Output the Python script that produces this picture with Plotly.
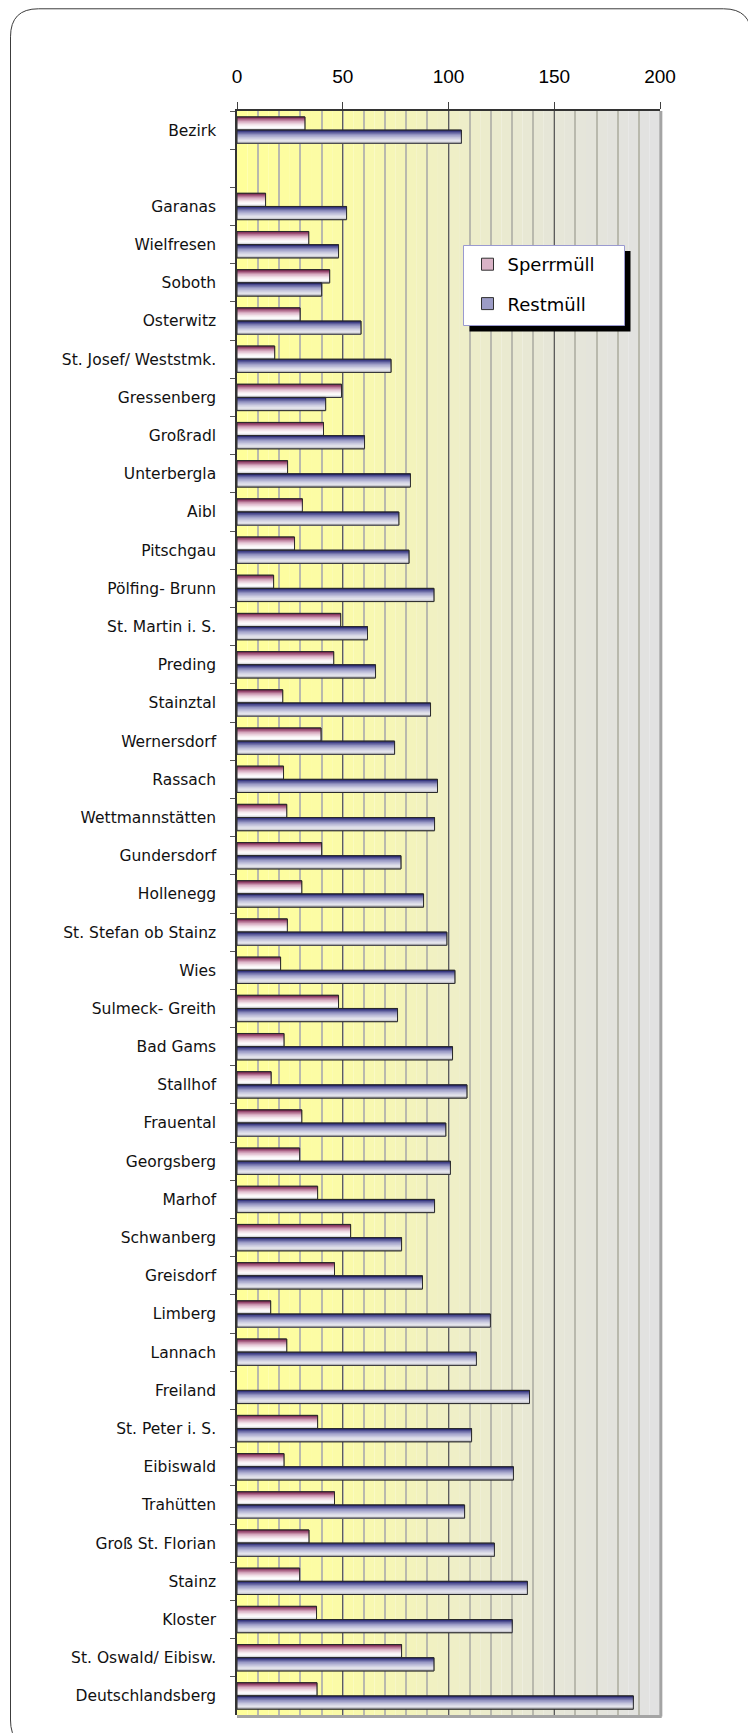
import plotly.graph_objects as go

# ---------------- data ----------------
categories = [
    "Bezirk", " ", "Garanas", "Wielfresen", "Soboth", "Osterwitz",
    "St. Josef/ Weststmk.", "Gressenberg", "Großradl", "Unterbergla", "Aibl",
    "Pitschgau", "Pölfing- Brunn", "St. Martin i. S.", "Preding", "Stainztal",
    "Wernersdorf", "Rassach", "Wettmannstätten", "Gundersdorf", "Hollenegg",
    "St. Stefan ob Stainz", "Wies", "Sulmeck- Greith", "Bad Gams", "Stallhof",
    "Frauental", "Georgsberg", "Marhof", "Schwanberg", "Greisdorf", "Limberg",
    "Lannach", "Freiland", "St. Peter i. S.", "Eibiswald", "Trahütten",
    "Groß St. Florian", "Stainz", "Kloster", "St. Oswald/ Eibisw.",
    "Deutschlandsberg",
]
sperrmuell = [
    32.1, None, 13.5, 33.9, 43.8, 29.8, 17.8, 49.4, 40.9, 23.9, 30.9,
    27.2, 17.3, 49.0, 45.7, 21.6, 39.7, 22.0, 23.5, 40.0, 30.6,
    23.8, 20.6, 48.0, 22.2, 16.1, 30.6, 29.6, 38.1, 53.7, 46.1, 15.9,
    23.5, None, 38.1, 22.2, 46.1, 34.0, 29.6, 37.6, 77.8, 37.8,
]
restmuell = [
    106.1, None, 51.8, 48.0, 40.0, 58.6, 72.8, 41.9, 60.3, 82.0, 76.5,
    81.3, 93.1, 61.7, 65.5, 91.5, 74.5, 94.8, 93.4, 77.5, 88.2,
    99.2, 103.0, 75.9, 101.9, 108.7, 98.7, 100.9, 93.4, 77.8, 87.7, 119.8,
    113.2, 138.3, 110.9, 130.7, 107.6, 121.7, 137.3, 130.1, 93.1, 187.4,
]
series_names = ["Sperrmüll", "Restmüll"]
x_ticks = [0, 50, 100, 150, 200]

# ---------------- geometry helpers ----------------
OFF = 8                      # browser body margin
W, H = 748, 1725
ML, MR, MT, MB = 229, 96, 103, 18
PW, PH = W - ML - MR, H - MT - MB


def px(xp):
    """page pixel x -> paper fraction"""
    return (xp - OFF - ML) / PW


def py(yp):
    """page pixel y -> paper fraction"""
    return (H - MB - (yp - OFF)) / PH


def lerp_stops(stops, t):
    for i in range(len(stops) - 1):
        t0, c0 = stops[i]
        t1, c1 = stops[i + 1]
        if t <= t1:
            f = 0 if t1 == t0 else (t - t0) / (t1 - t0)
            c = [round(a + (b - a) * f) for a, b in zip(c0, c1)]
            return "rgb(%d,%d,%d)" % tuple(c)
    return "rgb(%d,%d,%d)" % tuple(stops[-1][1])


sperr_stops = [(0.0, (105, 25, 65)), (0.12, (150, 70, 110)), (0.35, (215, 170, 192)),
               (0.6, (245, 232, 238)), (0.78, (255, 255, 255)), (1.0, (205, 205, 210))]
rest_stops = [(0.0, (20, 20, 95)), (0.12, (70, 70, 140)), (0.35, (150, 150, 195)),
              (0.65, (210, 210, 228)), (0.82, (232, 232, 238)), (1.0, (190, 190, 198))]

BW = 0.345   # bar thickness in category units
NB = 12      # gradient bands

fig = go.Figure()

series = [
    (series_names[0], sperrmuell, sperr_stops, -BW, "#d9b3c6"),
    (series_names[1], restmuell, rest_stops, 0.0, "#9c9cc6"),
]

for name, vals, stops, off0, legcol in series:
    fig.add_trace(go.Bar(
        name=name, y=categories, x=vals, orientation="h",
        offset=off0, width=BW, legendgroup=name, showlegend=True,
        marker=dict(color=legcol, line=dict(color="#303030", width=1)),
    ))
    for k in range(NB):
        fig.add_trace(go.Bar(
            y=categories, x=vals, orientation="h",
            offset=off0 + k * BW / NB, width=BW * (NB - k) / NB,
            legendgroup=name, showlegend=False, hoverinfo="skip",
            marker=dict(color=lerp_stops(stops, (k + 0.5) / NB), line=dict(width=0)),
        ))
    fig.add_trace(go.Bar(
        y=categories, x=vals, orientation="h",
        offset=off0, width=BW, legendgroup=name, showlegend=False, hoverinfo="skip",
        marker=dict(color="rgba(0,0,0,0)", line=dict(color="#2a2a2a", width=1)),
    ))

shapes = []
bg_stops = [(0.0, (255, 255, 153)), (0.25, (251, 251, 168)), (0.5, (239, 239, 198)),
            (0.75, (230, 230, 216)), (1.0, (225, 225, 225))]
NBG = 40
for i in range(NBG):
    shapes.append(dict(type="rect", xref="x", yref="paper", layer="below",
                       x0=200 * i / NBG, x1=200 * (i + 1) / NBG, y0=0, y1=1,
                       fillcolor=lerp_stops(bg_stops, (i + 0.5) / NBG), line=dict(width=0)))
shapes.append(dict(type="line", xref="paper", yref="paper", x0=1.002, x1=1.002, y0=-0.001, y1=1,
                   line=dict(color="#a4a4a4", width=3)))
shapes.append(dict(type="line", xref="paper", yref="paper", x0=0, x1=1.004, y0=-0.001, y1=-0.001,
                   line=dict(color="#a4a4a4", width=3)))

# legend box with shadow
shapes.append(dict(type="rect", xref="paper", yref="paper", layer="above",
                   x0=px(469.5), x1=px(630.5), y0=py(331.5), y1=py(251),
                   fillcolor="black", line=dict(width=0)))
shapes.append(dict(type="rect", xref="paper", yref="paper", layer="above",
                   x0=px(463.5), x1=px(624.5), y0=py(325.5), y1=py(245.5),
                   fillcolor="white", line=dict(color="#9a9ad0", width=1)))

# rounded outer frame
L, T, R, B, r = 10.5, 8.8, 751.5, 1748, 28
pts = [
    ("M", [(L + r, T)]), ("L", [(R - r, T)]), ("Q", [(R, T), (R, T + r)]),
    ("L", [(R, B - r)]), ("Q", [(R, B), (R - r, B)]), ("L", [(L + r, B)]),
    ("Q", [(L, B), (L, B - r)]), ("L", [(L, T + r)]), ("Q", [(L, T), (L + r, T)]),
]
path = ""
for cmd, pp in pts:
    path += cmd + " ".join("%.5f,%.5f" % (px(a), py(b)) for a, b in pp)
path += "Z"
shapes.append(dict(type="path", xref="paper", yref="paper", path=path,
                   line=dict(color="#3c3c3c", width=1), layer="above"))

fig.update_layout(
    width=W, height=H, template="none",
    margin=dict(l=ML, r=MR, t=MT, b=MB, pad=0),
    paper_bgcolor="white", plot_bgcolor="rgba(0,0,0,0)",
    barmode="overlay", hovermode=False, shapes=shapes,
    legend=dict(
        x=px(467.5), xanchor="left", y=py(246), yanchor="top",
        bgcolor="rgba(0,0,0,0)", borderwidth=0, tracegroupgap=13,
        itemwidth=30, font=dict(family="DejaVu Sans", size=18, color="black"),
    ),
    xaxis=dict(
        side="top", range=[0, 200], tickvals=x_ticks, ticktext=[str(v) for v in x_ticks],
        ticks="outside", ticklen=7, tickwidth=1, tickcolor="#404040",
        tickfont=dict(family="Liberation Sans, Arial", size=19, color="black"),
        ticklabelstandoff=12,
        showline=True, linecolor="#333333", linewidth=1.5,
        showgrid=True, gridcolor="#5c5c5c", gridwidth=1,
        minor=dict(dtick=10, tick0=0, showgrid=True, gridcolor="#b9b9ad", gridwidth=1.5, ticks=""),
        zeroline=False, fixedrange=True,
    ),
    yaxis=dict(
        type="category", categoryorder="array", categoryarray=categories,
        range=[len(categories) - 0.5, -0.5],
        tickson="boundaries", ticks="outside", ticklen=5, tickwidth=1, tickcolor="#555555",
        tickfont=dict(family="DejaVu Sans", size=15.5, color="#111111"),
        ticklabelstandoff=16,
        showline=True, linecolor="#333333", linewidth=1.5,
        showgrid=False, zeroline=False, fixedrange=True,
    ),
)

fig.write_html("out.html")
